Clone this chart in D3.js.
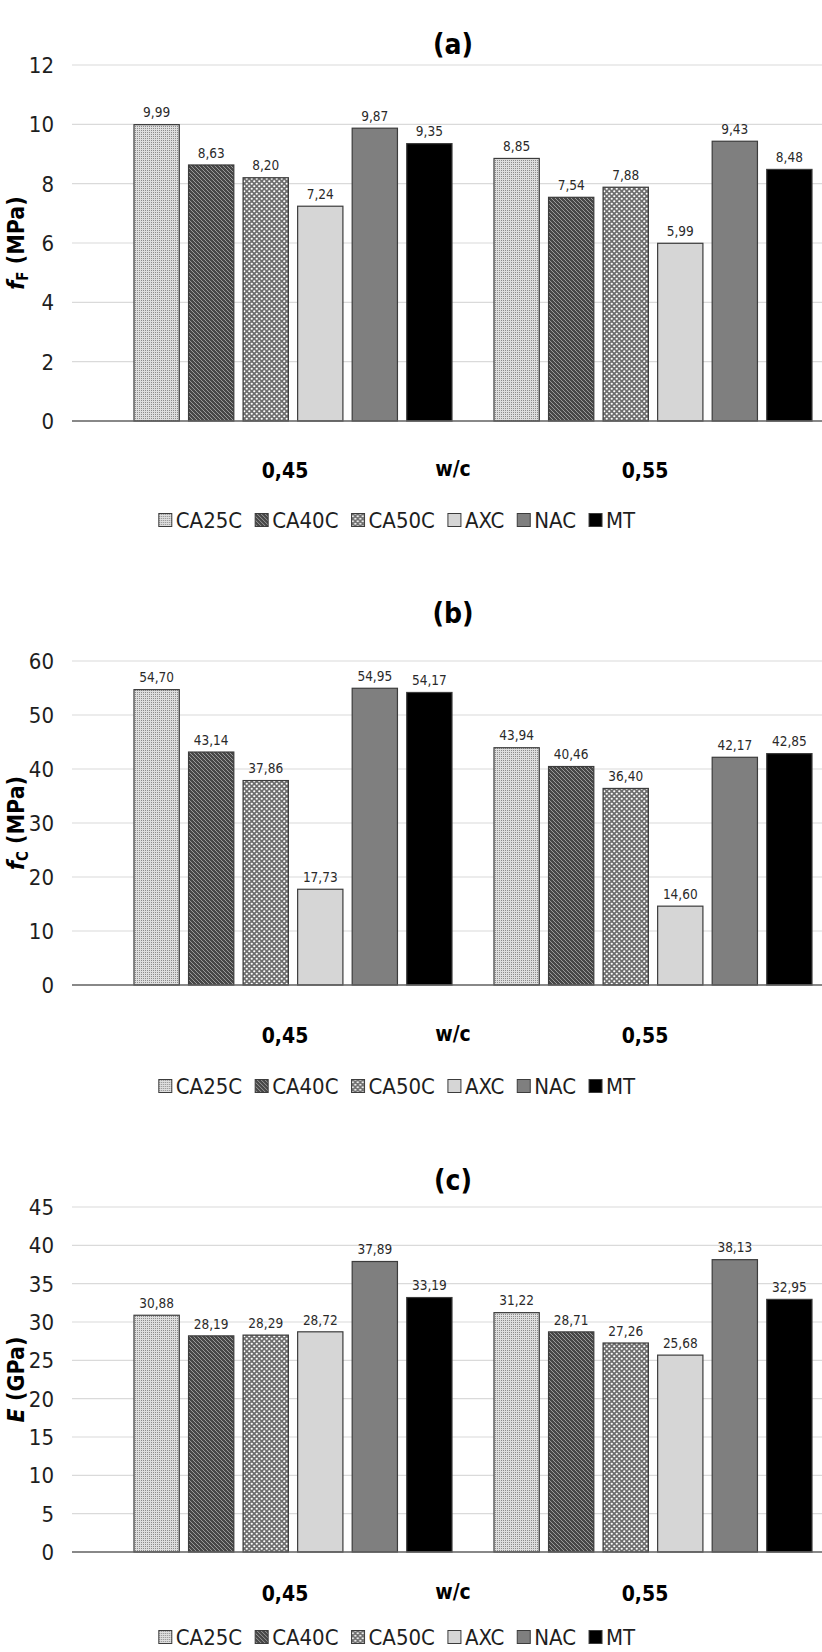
<!DOCTYPE html>
<html>
<head>
<meta charset="utf-8">
<script src="https://cdn.jsdelivr.net/npm/d3@7"></script>
<style>
  body { margin: 0; background: #fff; }
  svg { display: block; font-family: 'Liberation Sans Narrow', 'DejaVu Sans Condensed', 'Liberation Sans', sans-serif; }
</style>
</head>
<body>
<svg id="chart" width="822" height="1652"></svg>
<script>
// data
const groups = ["0,45", "0,55"];
const series = ["CA25C", "CA40C", "CA50C", "AXC", "NAC", "MT"];

const flexural = [
    [9.99, 8.63, 8.20, 7.24, 9.87, 9.35],
    [8.85, 7.54, 7.88, 5.99, 9.43, 8.48]
];
const compressive = [
    [54.70, 43.14, 37.86, 17.73, 54.95, 54.17],
    [43.94, 40.46, 36.40, 14.60, 42.17, 42.85]
];
const modulus = [
    [30.88, 28.19, 28.29, 28.72, 37.89, 33.19],
    [31.22, 28.71, 27.26, 25.68, 38.13, 32.95]
];

const ticksA = [0, 2, 4, 6, 8, 10, 12];
const ticksB = [0, 10, 20, 30, 40, 50, 60];
const ticksC = [0, 5, 10, 15, 20, 25, 30, 35, 40, 45];

const svg = d3.select("#chart");
const defs = svg.append("defs");

// fill patterns (greyscale, like the original Excel chart)
const p25 = defs.append("pattern").attr("id", "p25").attr("patternUnits", "userSpaceOnUse")
    .attr("width", 2).attr("height", 2);
p25.append("rect").attr("width", 2).attr("height", 2).attr("fill", "#dedede");
p25.append("rect").attr("width", 1).attr("height", 1).attr("fill", "#8c8c8c");

const p40 = defs.append("pattern").attr("id", "p40").attr("patternUnits", "userSpaceOnUse")
    .attr("width", 4).attr("height", 4);
p40.append("rect").attr("width", 4).attr("height", 4).attr("fill", "#474747");
p40.append("path").attr("d", "M-1,-1 L5,5 M-1,3 L1,5 M3,-1 L5,1")
    .attr("stroke", "#9a9a9a").attr("stroke-width", 1);

const p50 = defs.append("pattern").attr("id", "p50").attr("patternUnits", "userSpaceOnUse")
    .attr("width", 5).attr("height", 5);
p50.append("rect").attr("width", 5).attr("height", 5).attr("fill", "#6e6e6e");
p50.append("circle").attr("cx", 1.25).attr("cy", 1.25).attr("r", 1.1).attr("fill", "#fff");
p50.append("circle").attr("cx", 3.75).attr("cy", 3.75).attr("r", 1.1).attr("fill", "#fff");

const fills = ["url(#p25)", "url(#p40)", "url(#p50)", "#d6d6d6", "#7f7f7f", "#000"];

function drawChart(cfg) {
    const g = svg.append("g");

    const y = d3.scaleLinear()
        .domain([0, cfg.ticks[cfg.ticks.length - 1]])
        .range([cfg.bottom, cfg.top]);

    const x0 = d3.scaleBand().domain(groups).range([113, 833]);
    const x1 = d3.scaleBand().domain(series)
        .range([21, x0.bandwidth() - 21])
        .paddingInner(0.17);

    // gridlines
    g.selectAll(".grid")
        .data(cfg.ticks.slice(1))
        .enter()
        .append("line")
        .attr("x1", 72).attr("x2", 822)
        .attr("y1", d => y(d)).attr("y2", d => y(d))
        .attr("stroke", "#dadada").attr("stroke-width", 1.2);

    // y axis tick labels
    g.selectAll(".tick")
        .data(cfg.ticks)
        .enter()
        .append("text")
        .attr("x", 54)
        .attr("y", d => y(d))
        .attr("dy", "0.36em")
        .attr("text-anchor", "end")
        .attr("font-size", "22px")
        .attr("fill", "#1e1e1e")
        .text(d => d);

    // bars
    cfg.values.forEach((vals, gi) => {
        const grp = g.append("g").attr("transform", `translate(${x0(groups[gi])},0)`);
        grp.selectAll("rect")
            .data(vals)
            .enter()
            .append("rect")
            .attr("x", (d, i) => x1(series[i]))
            .attr("y", d => y(d))
            .attr("width", x1.bandwidth())
            .attr("height", d => y(0) - y(d))
            .attr("fill", (d, i) => fills[i])
            .attr("stroke", "#3c3c3c")
            .attr("stroke-width", 1.2);

        grp.selectAll("text")
            .data(vals)
            .enter()
            .append("text")
            .attr("x", (d, i) => x1(series[i]) + x1.bandwidth() / 2)
            .attr("y", d => y(d) - 12)
            .attr("dy", "0.35em")
            .attr("text-anchor", "middle")
            .attr("font-size", "13.5px")
            .attr("fill", "#2a2a2a")
            .text(d => d.toFixed(2).replace(".", ","));
    });

    // zero axis line
    g.append("line")
        .attr("x1", 72).attr("x2", 822)
        .attr("y1", y(0)).attr("y2", y(0))
        .attr("stroke", "#606060").attr("stroke-width", 1.6);

    // chart title
    g.append("text")
        .attr("x", 453).attr("y", cfg.titleY)
        .attr("dy", "0.35em")
        .attr("text-anchor", "middle")
        .attr("font-size", "28px")
        .attr("font-weight", "bold")
        .text(cfg.title);

    // y axis title
    const yt = g.append("text")
        .attr("transform", `translate(16,${(cfg.top + cfg.bottom) / 2}) rotate(-90)`)
        .attr("text-anchor", "middle")
        .attr("dy", "0.35em")
        .attr("font-size", "23px")
        .attr("font-weight", "bold");
    yt.append("tspan").attr("font-style", "italic").text(cfg.yMain);
    if (cfg.ySub) {
        yt.append("tspan").attr("font-size", "15px").attr("dy", "4").text(cfg.ySub);
        yt.append("tspan").attr("dy", "-4").text(" " + cfg.yUnit);
    } else {
        yt.append("tspan").text(" " + cfg.yUnit);
    }

    // category labels
    g.selectAll(".cat")
        .data(groups)
        .enter()
        .append("text")
        .attr("x", d => x0(d) + x0.bandwidth() / 2 - 8)
        .attr("y", cfg.catY)
        .attr("dy", "0.35em")
        .attr("text-anchor", "middle")
        .attr("font-size", "21px")
        .attr("font-weight", "bold")
        .text(d => d);
    g.append("text")
        .attr("x", 453).attr("y", cfg.catY - 2)
        .attr("dy", "0.35em")
        .attr("text-anchor", "middle")
        .attr("font-size", "21px")
        .attr("font-weight", "bold")
        .text("w/c");

    // legend
    const leg = g.append("g");
    let lx = 0;
    series.forEach((s, i) => {
        const item = leg.append("g").attr("transform", `translate(${lx},0)`);
        item.append("rect")
            .attr("x", 0).attr("y", -6.5)
            .attr("width", 13).attr("height", 13)
            .attr("fill", fills[i])
            .attr("stroke", "#3c3c3c").attr("stroke-width", 1);
        const t = item.append("text")
            .attr("x", 17).attr("y", 0)
            .attr("dy", "0.35em")
            .attr("font-size", "22px")
            .attr("fill", "#1e1e1e")
            .text(s);
        lx += 17 + t.node().getComputedTextLength() + 13;
    });
    const legW = lx - 13;
    leg.attr("transform", `translate(${397 - legW / 2},${cfg.legY})`);
}

drawChart({ values: flexural, ticks: ticksA, top: 65, bottom: 421, title: "(a)", titleY: 44,
    yMain: "f", ySub: "F", yUnit: "(MPa)", catY: 471, legY: 520 });
drawChart({ values: compressive, ticks: ticksB, top: 661, bottom: 985, title: "(b)", titleY: 613,
    yMain: "f", ySub: "C", yUnit: "(MPa)", catY: 1036, legY: 1086 });
drawChart({ values: modulus, ticks: ticksC, top: 1207, bottom: 1552, title: "(c)", titleY: 1180,
    yMain: "E", ySub: null, yUnit: "(GPa)", catY: 1594, legY: 1637 });
</script>
</body>
</html>
